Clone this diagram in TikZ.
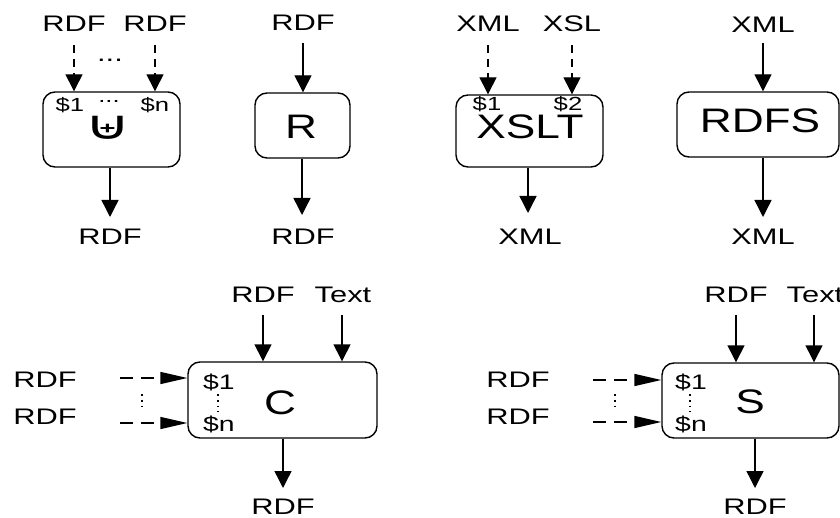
\documentclass[tikz,border=0pt]{standalone}
\usepackage{fontspec}
\setmainfont{Liberation Sans}
\newfontfamily\symfont{DejaVu Sans}
\usetikzlibrary{arrows.meta}

\tikzset{
  lbl/.style={inner sep=0pt, xscale=1.37, font=\fontsize{22.5}{27}\selectfont},
  bigtxt/.style={inner sep=0pt, xscale=1.3, font=\fontsize{34}{40}\selectfont},
  porttop/.style={inner sep=0pt, xscale=1.35, font=\fontsize{19}{23}\selectfont},
  portside/.style={inner sep=0pt, xscale=1.35, font=\fontsize{21}{25}\selectfont},
  opbox/.style={draw, rectangle, rounded corners=12pt, line width=1.4pt, inner sep=0pt},
  vflow/.style={line width=1.4pt, -{Triangle[length=17pt,width=17pt]}},
  vdashflow/.style={vflow, dash pattern=on 8pt off 6pt},
  hdashflow/.style={line width=1.4pt, dash pattern=on 13pt off 8pt, -{Triangle[length=27pt,width=12pt]}},
  vdots/.style={line width=1.8pt, dash pattern=on 1.8pt off 4pt}
}

\begin{document}
\begin{tikzpicture}[x=1pt, y=-1pt]
\useasboundingbox (0,0) rectangle (840,518);
\clip (0,0) rectangle (840,518);

% ---------- bag union of RDF inputs ----------
\node[opbox, minimum width=137pt, minimum height=75pt] (un) at (111.5,129.5) {};
\node[lbl] (un-in1) at (74,24) {RDF};
\node[lbl] (un-in2) at (155,24) {RDF};
\coordinate (un-s1) at (74,45);
\coordinate (un-s2) at (155,45);
\draw[vdashflow] (un-s1) -- (un-s1 |- un.north);
\draw[vdashflow] (un-s2) -- (un-s2 |- un.north);
\node[lbl] (un-indots) at (110,60) {...};
\node[porttop] (un-p1) at (70,105) {\$1};
\node[porttop] (un-pdots) at (109,101) {...};
\node[porttop] (un-pn) at (155,105) {\$n};
\node[inner sep=0pt, xscale=1.6, font=\symfont\fontsize{40}{46}\selectfont] (un-op) at (108,128) {⊎};
\coordinate (un-o) at (110,217);
\draw[vflow] (un.south -| un-o) -- (un-o);
\node[lbl] (un-out) at (110,237) {RDF};

% ---------- R ----------
\node[opbox, minimum width=95pt, minimum height=65pt] (r) at (302.5,125.5) {};
\node[bigtxt] (r-op) at (301,127) {R};
\node[lbl] (r-in) at (303,23) {RDF};
\coordinate (r-s) at (303,43);
\draw[vflow] (r-s) -- (r-s |- r.north);
\coordinate (r-o) at (302,215);
\draw[vflow] (r.south -| r-o) -- (r-o);
\node[lbl] (r-out) at (303,237) {RDF};

% ---------- XSLT ----------
\node[opbox, minimum width=147pt, minimum height=72pt] (xs) at (529.5,131) {};
\node[lbl] (xs-in1) at (488,24) {XML};
\node[lbl] (xs-in2) at (572,24) {XSL};
\coordinate (xs-s1) at (488,45);
\coordinate (xs-s2) at (572,45);
\draw[vdashflow] (xs-s1) -- (xs-s1 |- xs.north);
\draw[vdashflow] (xs-s2) -- (xs-s2 |- xs.north);
\node[porttop] (xs-p1) at (487,104) {\$1};
\node[porttop] (xs-p2) at (568,104) {\$2};
\node[bigtxt] (xs-op) at (530,127) {XSLT};
\coordinate (xs-o) at (528,213);
\draw[vflow] (xs.south -| xs-o) -- (xs-o);
\node[lbl] (xs-out) at (530,237) {XML};

% ---------- RDFS ----------
\node[opbox, minimum width=162pt, minimum height=65pt] (rs) at (758,124.5) {};
\node[bigtxt] (rs-op) at (760,121) {RDFS};
\node[lbl] (rs-in) at (763,25) {XML};
\coordinate (rs-s) at (763,43);
\draw[vflow] (rs-s) -- (rs-s |- rs.north);
\coordinate (rs-o) at (763,217);
\draw[vflow] (rs.south -| rs-o) -- (rs-o);
\node[lbl] (rs-out) at (763,237) {XML};

% ---------- C ----------
\node[opbox, minimum width=189pt, minimum height=76pt] (c) at (282.5,400) {};
\node[bigtxt] (c-op) at (280,403) {C};
\node[lbl] (c-in1) at (263,295) {RDF};
\node[lbl] (c-in2) at (343,295) {Text};
\coordinate (c-s1) at (263,315);
\coordinate (c-s2) at (342,315);
\draw[vflow] (c-s1) -- (c-s1 |- c.north);
\draw[vflow] (c-s2) -- (c-s2 |- c.north);
\node[portside] (c-p1) at (219,382) {\$1};
\node[portside] (c-pn) at (219,424) {\$n};
\coordinate (c-d1) at (218,394);
\coordinate (c-d2) at (218,412);
\draw[vdots] (c-d1) -- (c-d2);
\node[lbl] (c-l1) at (45,380) {RDF};
\node[lbl] (c-l2) at (45,417) {RDF};
\coordinate (c-h1) at (120,378);
\coordinate (c-h2) at (120,423);
\draw[hdashflow] (c-h1) -- (c-h1 -| c.west);
\draw[hdashflow] (c-h2) -- (c-h2 -| c.west);
\coordinate (c-e1) at (142,394);
\coordinate (c-e2) at (142,411);
\draw[vdots] (c-e1) -- (c-e2);
\coordinate (c-o) at (283,488);
\draw[vflow] (c.south -| c-o) -- (c-o);
\node[lbl] (c-out) at (283,507) {RDF};

% ---------- S ----------
\node[opbox, minimum width=177pt, minimum height=75pt] (s) at (750.5,400.5) {};
\node[bigtxt] (s-op) at (750,402) {S};
\node[lbl] (s-in1) at (736,295) {RDF};
\node[lbl] (s-in2) at (815,295) {Text};
\coordinate (s-s1) at (736,315);
\coordinate (s-s2) at (814,315);
\draw[vflow] (s-s1) -- (s-s1 |- s.north);
\draw[vflow] (s-s2) -- (s-s2 |- s.north);
\node[portside] (s-p1) at (691,382) {\$1};
\node[portside] (s-pn) at (691,424) {\$n};
\coordinate (s-d1) at (690,394);
\coordinate (s-d2) at (690,412);
\draw[vdots] (s-d1) -- (s-d2);
\node[lbl] (s-l1) at (518,380) {RDF};
\node[lbl] (s-l2) at (518,417) {RDF};
\coordinate (s-h1) at (593,380);
\coordinate (s-h2) at (593,422);
\draw[hdashflow] (s-h1) -- (s-h1 -| s.west);
\draw[hdashflow] (s-h2) -- (s-h2 -| s.west);
\coordinate (s-e1) at (615,394);
\coordinate (s-e2) at (615,411);
\draw[vdots] (s-e1) -- (s-e2);
\coordinate (s-o) at (755,488);
\draw[vflow] (s.south -| s-o) -- (s-o);
\node[lbl] (s-out) at (755,507) {RDF};
\end{tikzpicture}
\end{document}
